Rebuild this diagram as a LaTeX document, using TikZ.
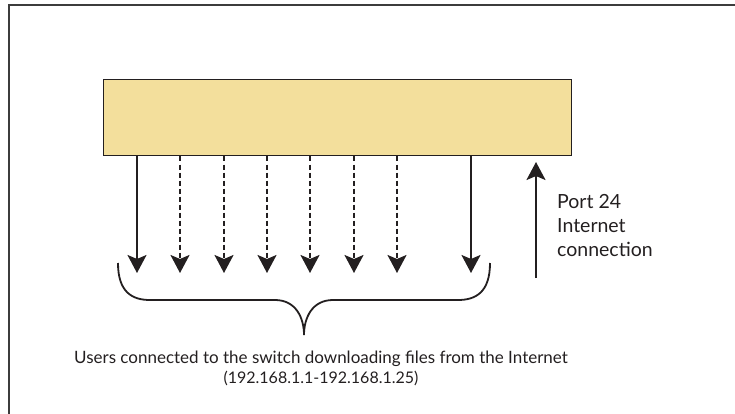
\documentclass[tikz,border=0pt]{standalone}
\usepackage{fontspec}
\setmainfont{Lato}
\usetikzlibrary{arrows.meta}
\definecolor{switchfill}{RGB}{243,223,156}
\definecolor{ink}{RGB}{35,31,32}
\definecolor{framecol}{RGB}{60,60,60}
\tikzset{
  switchbox/.style={draw=ink, line width=1pt, fill=switchfill, minimum width=468pt, minimum height=76pt, inner sep=0pt},
  link/.style={draw=ink, line width=2pt, -{Stealth[length=18pt,width=19pt,inset=4pt]}},
  dlink/.style={link, dash pattern=on 5pt off 3pt},
  lbl/.style={text=ink, inner sep=0pt},
  sidelbl/.style={lbl, font=\fontsize{19.5}{23}\selectfont},
  caplbl/.style={lbl, font=\fontsize{17}{20}\selectfont},
}
\begin{document}
\begin{tikzpicture}[x=1pt,y=-1pt]
\useasboundingbox (0,0) rectangle (735,414);
% frame (only top and left edges visible)
\draw[framecol, line width=2pt] (9,414) -- (9,5) -- (735,5);
% switch
\node[switchbox] (sw) at (337,118) {};
% arrow ends
\foreach \i/\x in {1/137,2/180,3/224,4/267,5/310,6/354,7/397,8/471} {
  \coordinate (t\i) at (\x,273);
}
\draw[link] (sw.south -| t1) -- (t1);
\foreach \i in {2,...,7} { \draw[dlink] (sw.south -| t\i) -- (t\i); }
\draw[link] (sw.south -| t8) -- (t8);
% internet connection
\coordinate (inb) at (536,278);
\coordinate (int) at (536,162);
\draw[link] (inb) -- (int);
\node[sidelbl, anchor=base west] (port) at (557,208) {Port 24};
\node[sidelbl, anchor=base west] (inet) at (557,232) {Internet};
\node[sidelbl, anchor=base west] (conn) at (557,256) {connection};
% brace
\coordinate (bl) at (118,263);
\coordinate (br) at (490,263);
\coordinate (btip) at (304,335);
\draw[ink, line width=1.8pt] (bl) .. controls (118,292) and (132,300) .. (150,300) -- (275,300)
  .. controls (296,300) and (304,318) .. (btip)
  .. controls (304,318) and (312,300) .. (333,300) -- (458,300)
  .. controls (476,300) and (490,292) .. (br);
% caption
\node[caplbl, anchor=base] (cap1) at (321,363) {Users connected to the switch downloading files from the Internet};
\node[caplbl, anchor=base, font=\fontsize{16}{20}\selectfont] (cap2) at (321,383) {(192.168.1.1-192.168.1.25)};
\end{tikzpicture}
\end{document}
